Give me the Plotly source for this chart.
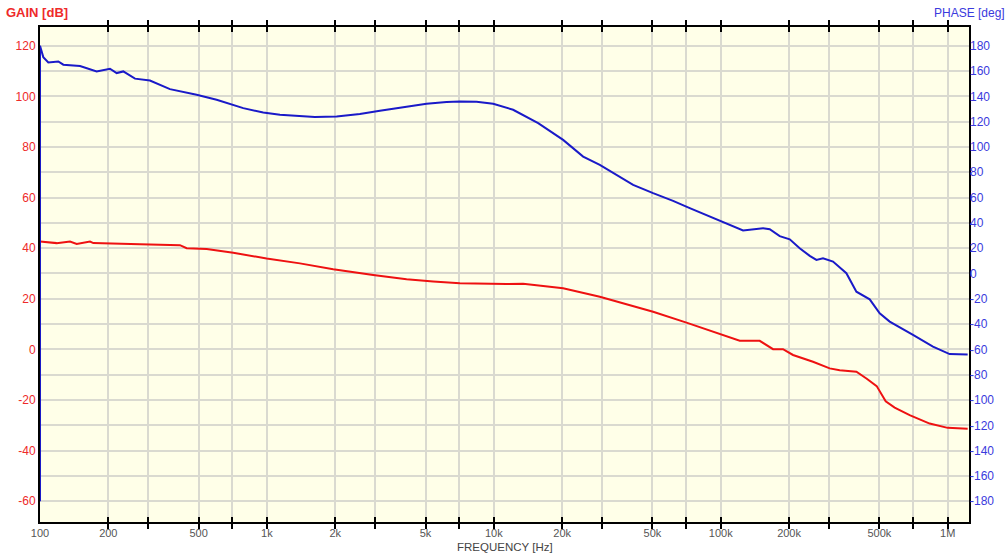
import plotly.graph_objects as go

# ---------------- data ----------------
freq_gain = [100, 118.4, 135.6, 145.1, 166.1, 171.8, 275.8, 413.8, 443.0, 542.6,
             710.6, 997, 1398, 1959, 2940, 4125, 5402, 7084, 11370, 13460,
             16490, 20200, 29310, 41100, 50330, 70620, 99000, 121200, 148500, 170000,
             188100, 208200, 255000, 302100, 334300, 396100, 438500, 486700, 533200, 584100,
             680000, 833000, 1000000, 1225000]
gain_db = [42.6, 42.0, 42.6, 41.7, 42.6, 42.0, 41.6, 41.2, 40.0, 39.7,
           38.2, 35.9, 34.0, 31.7, 29.4, 27.7, 26.8, 26.1, 25.8, 25.9,
           25.1, 24.2, 20.8, 17.2, 14.9, 10.6, 6.0, 3.4, 3.4, 0.1,
           0.1, -2.2, -4.9, -7.5, -8.2, -8.8, -11.5, -14.5, -20.5, -23.0,
           -26.0, -29.3, -31.0, -31.4]

freq_phase = [100, 100, 103.4, 108.8, 120.4, 126.7, 150.1, 177.7, 203.4, 217.7,
              232.8, 262.2, 305.1, 373.8, 490.0, 600.4, 786.5, 963.2, 1141, 1398,
              1627, 2028, 2568, 3146, 4125, 5052, 6187, 7084, 8390, 9930,
              12160, 15680, 20200, 24750, 29310, 33550, 41100, 50330, 61640, 73020,
              89440, 109500, 125400, 153600, 164400, 181900, 201400, 222800, 246700, 264000,
              282200, 312400, 357800, 396100, 453300, 501700, 555300, 703400, 861300, 1020000,
              1225000]
phase_deg = [-180, 180, 171, 166.8, 167.6, 165, 164, 159.7, 161.8, 158.4,
             159.7, 154, 152.5, 145.7, 141.2, 137.3, 130.7, 127.2, 125.4, 124.6,
             123.6, 124.1, 126, 128.6, 132, 134.1, 135.5, 136, 135.7, 134.1,
             129.4, 118.8, 105.6, 92.4, 85.9, 79.3, 70, 63.5, 57.4, 51.6,
             45, 38.4, 34, 35.8, 35, 29.5, 27, 20, 13.9, 10.7,
             12, 9.4, 0.2, -14.4, -20.4, -31.5, -38, -48.6, -57.8, -63.7,
             -64]

x_tick_vals = [100, 200, 300, 500, 700,
               1000, 2000, 3000, 5000, 7000,
               10000, 20000, 30000, 50000, 70000,
               100000, 200000, 300000, 500000, 700000,
               1000000]
x_tick_text = ["100", "200", "", "500", "",
               "1k", "2k", "", "5k", "",
               "10k", "20k", "", "50k", "",
               "100k", "200k", "", "500k", "",
               "1M"]
gain_tick_vals = [-60, -50, -40, -30, -20, -10, 0, 10, 20, 30, 40, 50, 60, 70, 80, 90, 100, 110, 120]
gain_tick_text = [str(v) if v % 20 == 0 else "" for v in gain_tick_vals]
phase_tick_vals = [-180, -160, -140, -120, -100, -80, -60, -40, -20, 0,
                   20, 40, 60, 80, 100, 120, 140, 160, 180]
phase_tick_text = [str(v) for v in phase_tick_vals]

# ---------------- styling ----------------
RED_LINE = "#EE1111"
BLUE_LINE = "#1A1AC8"
RED_TXT = "#EE2A2A"
BLUE_TXT = "#3A3ADD"
GRID = "#DADAD0"
FONT = "Liberation Sans, Arial, sans-serif"

fig = go.Figure()
fig.add_trace(go.Scatter(x=freq_gain, y=gain_db, mode="lines", yaxis="y",
                         line=dict(color=RED_LINE, width=2), showlegend=False,
                         hoverinfo="skip"))
fig.add_trace(go.Scatter(x=freq_phase, y=phase_deg, mode="lines", yaxis="y2",
                         line=dict(color=BLUE_LINE, width=2), showlegend=False,
                         hoverinfo="skip"))

fig.update_layout(
    width=1006, height=553,
    margin=dict(l=40, r=37, t=27, b=31, autoexpand=False),
    paper_bgcolor="white",
    plot_bgcolor="#FFFFE8",
    font=dict(family=FONT, size=12),
    xaxis=dict(
        type="log", range=[2, 6.094], automargin=False,
        tickmode="array", tickvals=x_tick_vals, ticktext=x_tick_text,
        ticks="inside", ticklen=5, tickwidth=2, tickcolor="black",
        showgrid=True, gridcolor=GRID, gridwidth=1.5,
        showline=True, linecolor="black", linewidth=2, mirror="allticks",
        tickfont=dict(color="#555555", size=11),
        zeroline=False, layer="below traces",
    ),
    yaxis=dict(
        range=[-68.2, 127.4], automargin=False,
        tickmode="array", tickvals=gain_tick_vals, ticktext=gain_tick_text,
        ticks="", showgrid=True, gridcolor=GRID, gridwidth=1.5,
        showline=True, linecolor="black", linewidth=2, mirror=True,
        tickfont=dict(color=RED_TXT, size=12),
        zeroline=False, layer="below traces",
    ),
    yaxis2=dict(
        range=[-196.4, 194.8], overlaying="y", side="right", automargin=False,
        tickmode="array", tickvals=phase_tick_vals, ticktext=phase_tick_text,
        ticks="", showgrid=False, showline=False,
        tickfont=dict(color=BLUE_TXT, size=12),
        zeroline=False,
    ),
    annotations=[
        dict(text="<b>GAIN [dB]</b>", xref="paper", yref="paper", x=0, y=1,
             xanchor="left", yanchor="bottom", xshift=-36, yshift=5,
             showarrow=False, font=dict(color=RED_TXT, size=13, family=FONT)),
        dict(text="PHASE [deg]", xref="paper", yref="paper", x=1, y=1,
             xanchor="left", yanchor="bottom", xshift=-37, yshift=5,
             showarrow=False, font=dict(color=BLUE_TXT, size=12, family=FONT)),
        dict(text="FREQUENCY [Hz]", xref="paper", yref="paper", x=0.5005, y=0,
             xanchor="center", yanchor="top", yshift=-16.5,
             showarrow=False, font=dict(color="#444444", size=11.5, family=FONT)),
    ],
)

fig.write_html("out.html", config={"displayModeBar": False},
               post_script="document.body.style.margin='0';document.body.style.overflow='hidden';")
